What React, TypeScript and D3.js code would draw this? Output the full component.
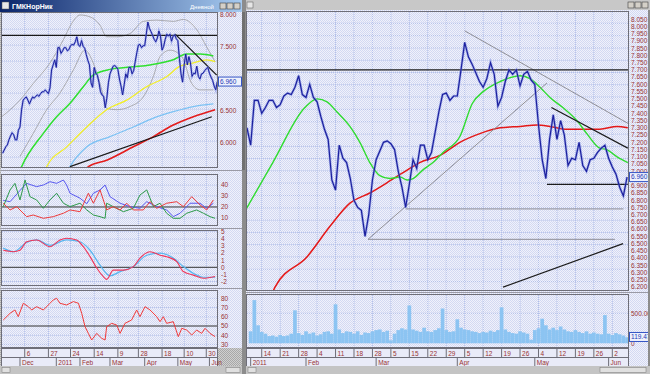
import React from "react";
import * as d3 from "d3";

type P = [number, number];

// ---------------- DATA (day index: 0 = 11 Jan 2011) ----------------
const FIRST_DAY = -34;
const closePrices = [
  5.84, 5.89, 5.94, 5.97, 6.05, 6.11, 6.16, 6.13, 6.05, 6.05, 6.2, 6.25, 6.52, 6.67, 6.7, 6.72, 6.67,
  6.61, 6.67, 6.72, 6.7, 6.73, 6.75, 6.73, 6.77, 6.8, 6.8, 6.83, 6.8, 6.77, 6.86, 7.14, 7.22, 7.3,
  7.18, 7.49, 7.49, 7.4, 7.44, 7.49, 7.49, 7.44, 7.46, 7.52,
  7.54, 7.53, 7.58, 7.66, 7.53, 7.51, 7.6, 7.51, 7.48, 7.38,
  7.29, 7.22, 6.94, 6.87, 7.18, 7.09, 7.06, 6.95, 6.8, 6.75,
  6.73, 6.55, 6.7, 6.94, 7.08, 7.14, 7.2, 7.21, 7.19, 7.15,
  7.0, 6.89, 6.75, 6.91, 7.08, 7.02, 7.18, 7.18, 7.08, 7.13,
  7.27, 7.41, 7.53, 7.54, 7.49, 7.52, 7.52, 7.7, 7.89, 7.79,
  7.74, 7.68, 7.62, 7.58, 7.64, 7.75, 7.67, 7.45, 7.51, 7.62,
  7.7, 7.67, 7.7, 7.59, 7.67, 7.69, 7.63, 7.6, 7.32, 7.08,
  6.95, 7.22, 7.39, 7.22, 7.35, 7.25, 7.04, 7.09, 7.08, 7.2,
  7.04, 7.0, 7.08, 7.09, 7.13, 7.16, 7.18, 7.09, 7.03, 6.98,
  6.89, 6.83, 6.96,
];
const currentPrice = 6.96;

const volumeValues = [
  200, 720, 300, 190, 160, 120, 130, 110, 140, 120, 130, 160, 550,
  170, 140, 200, 160, 180, 130, 150, 190, 200, 160, 650,
  230, 170, 200, 190, 160, 200, 140, 180, 170,
  200, 220, 230, 190, 210, 50, 160, 220, 250, 230, 630,
  230, 210, 190, 260, 200, 190, 220, 250, 580, 220, 190, 200, 400,
  260, 230, 220, 200, 190, 170, 190, 180, 210, 190, 220, 600,
  230, 190, 170, 160, 200, 180, 160, 60, 220, 250, 410,
  300, 230, 260, 220, 280, 230, 200, 190, 220, 190, 170, 200, 160, 180, 160, 150, 470,
  160, 140, 170, 150, 130, 100,
];
const currentVolumeLabel = "119.47";

const rightGreenMA: P[] = [
  [-1.2, 6.74], [6, 7.06], [14.7, 7.44], [18, 7.5], [20.7, 7.48], [23.4, 7.41], [26.9, 7.31],
  [29.6, 7.2], [32.3, 7.06], [35, 6.97], [37.7, 6.95], [40.5, 6.96], [42.4, 6.94], [44, 6.95],
  [46.7, 7.01], [49.4, 7.06], [52.1, 7.13], [56.7, 7.24], [60.1, 7.47], [63, 7.55], [67.6, 7.62],
  [73, 7.66], [75.7, 7.64], [78.4, 7.58], [81.1, 7.51], [84.6, 7.44], [88.4, 7.35], [91.1, 7.26],
  [94.6, 7.16], [96.5, 7.15], [99.3, 7.1], [102.2, 7.06],
];
const rightRedMA: P[] = [
  [5, 6.1], [6.6, 6.2], [15.3, 6.41], [21.5, 6.62], [26.9, 6.78], [32.3, 6.85], [36.9, 6.92],
  [41.3, 6.99], [45.8, 7.06], [51.3, 7.11], [56.7, 7.2], [62.1, 7.26], [67.6, 7.3], [73, 7.31],
  [77.6, 7.32], [81.1, 7.31], [85.7, 7.29], [90.1, 7.29], [94.6, 7.29], [99.3, 7.31], [102.2, 7.3],
];

// trend lines: [day1, value1, day2, value2]
const rightBlackLines = [
  [-1.2, 7.7, 102.3, 7.7],
  [81.5, 7.44, 102.2, 7.16],
  [80.3, 6.91, 102.2, 6.91],
  [68.4, 6.2, 100.9, 6.5],
];
const rightGrayLines = [
  [58, 7.97, 102.3, 7.33],
  [31.8, 6.53, 80.3, 7.61],
  [31.8, 6.53, 98.7, 6.53],
  [42, 6.74, 101, 6.74],
];
const leftBlackLines = [
  [-34.4, 7.68, 101.8, 7.68],
  [75.3, 7.7, 101.6, 7.06],
  [8.7, 5.63, 98.5, 6.41],
];

const leftGreenMA: P[] = [
  [-25, 5.45], [-22, 5.63], [-8.2, 6.15], [0.2, 6.41], [8.7, 6.62], [17.1, 6.88], [23.4, 7.06],
  [34, 7.15], [48.8, 7.19], [59.4, 7.22], [74.1, 7.3], [82.6, 7.39], [91.1, 7.39], [99.5, 7.36],
];
const leftYellowMA: P[] = [
  [-9, 5.45], [-6.1, 5.63], [6.6, 5.94], [19.3, 6.25], [31.9, 6.52], [44.6, 6.67], [57.3, 6.88],
  [70, 7.04], [78.4, 7.2], [86.8, 7.25], [95.3, 7.3], [100.6, 7.27],
];
const leftBlueMA: P[] = [
  [6, 5.5], [8.7, 5.63], [19.3, 5.94], [34, 6.1], [48.8, 6.25], [61.5, 6.39], [74.1, 6.49],
  [86.8, 6.57], [99.5, 6.61],
];
const leftRedMA: P[] = [
  [18, 5.55], [20.3, 5.63], [31.9, 5.73], [48.8, 5.94], [61.5, 6.1], [74.1, 6.28], [86.8, 6.41],
  [100.6, 6.52],
];
const bollUpper: P[] = [
  [-34.6, 6.41], [-23, 6.67], [-14.6, 6.93], [-4, 7.25], [4.4, 7.61], [9.8, 7.87], [15, 8.0],
  [21.4, 7.97], [27.7, 7.84], [31.9, 7.66], [38.3, 7.66], [46.7, 7.71], [55.1, 7.9], [63.6, 7.92],
  [74.1, 7.9], [80.5, 7.93], [89, 7.77], [95.3, 7.5], [100.6, 7.27],
];
const bollLower: P[] = [
  [-23, 5.79], [-14.6, 6.15], [-6.1, 6.52], [2.3, 6.78], [10.8, 7.14], [18.2, 7.45], [23.4, 7.25],
  [28.8, 6.83], [31.9, 6.54], [38.3, 6.52], [46.7, 6.57], [55.1, 6.72], [61.5, 7.04], [65.7, 7.35],
  [72.1, 7.45], [79.5, 7.35], [85.8, 6.93], [91.1, 6.83], [99.5, 6.83],
];

const adxBlue: P[] = [
  [-33.6, 26], [-29.3, 24.8], [-23, 35], [-18.8, 41.5], [-12.5, 38.5], [-8.2, 40], [-4, 43],
  [0.2, 41.5], [4.5, 44.5], [6.5, 40], [8.7, 32.5], [15, 28], [19.3, 23], [23.5, 32.5],
  [27.7, 35.5], [30.9, 40], [34, 29.4], [40.4, 23.4], [46.7, 20.3], [53, 18.8], [57.3, 24.8],
  [63.6, 20.3], [69.9, 17.3], [74.1, 11.2], [78.4, 14.3], [84.7, 23.4], [91.1, 23.4], [95.3, 18.8],
  [99.5, 23.4],
];
const adxGreen: P[] = [
  [-33.6, 20.3], [-29.3, 35.5], [-26.2, 41.5], [-23, 26.4], [-19.8, 44.5], [-16.7, 29.4],
  [-12.5, 26.4], [-8.2, 18.8], [-4, 26.4], [0.2, 32.5], [4.5, 23.4], [8.7, 20.3], [15, 23.4],
  [19.3, 17.3], [23.5, 12.7], [27.7, 11.2], [30.9, 9.7], [31.9, 23.4], [36.1, 20.3], [42.5, 15.7],
  [48.8, 18.8], [53, 30.9], [57.3, 35.5], [61.5, 20.3], [65.7, 23.4], [69.9, 14.3], [74.1, 9.7],
  [78.4, 9.7], [82.6, 14.3], [88.9, 17.3], [93.2, 14.3], [97.4, 11.2], [100.6, 9.7],
];
const adxRed: P[] = [
  [-33.6, 23.4], [-29.3, 17.3], [-25.1, 20.3], [-18.8, 11.2], [-14.6, 12.7], [-8.2, 9.7],
  [-1.9, 11.2], [4.5, 14.3], [8.7, 17.3], [15, 15.7], [20.3, 32.5], [23.5, 23.4], [27.7, 35.5],
  [31.9, 17.3], [36.1, 20.3], [40.4, 17.3], [44.6, 23.4], [48.8, 17.3], [55.1, 17.3], [59.4, 24.8],
  [63.6, 18.8], [69.9, 23.4], [76.3, 24.8], [80.5, 20.3], [85.8, 29.4], [91.1, 21.8], [95.3, 17.3],
  [99.5, 26.4],
];
const macdRed: P[] = [
  [-33.6, 2.4], [-27.2, 2.2], [-23, 2.4], [-18.8, 3.6], [-12.5, 3.85], [-4, 2.9], [2.3, 3.85],
  [6.5, 4.1], [12.9, 3.85], [17.1, 2.9], [21.4, 1.5], [25.6, -0.1], [29.8, -1.3], [31.9, -1.7],
  [36.1, -0.4], [42.5, -0.4], [48.8, 0.1], [53, 1.3], [59.4, 2.2], [65.7, 1.7], [69.9, 1.5],
  [76.3, 0.8], [80.5, -0.6], [86.8, -1.1], [93.2, -1.55], [100.6, -1.3],
];
const macdBlue: P[] = [
  [-33.6, 2.7], [-27.2, 2.2], [-18.8, 3.5], [-12.5, 3.85], [-4, 3.1], [6.5, 3.85], [15, 3.6],
  [21.4, 2.4], [27.7, 0.3], [34, -1.2], [40.4, -0.6], [48.8, 0.1], [57.3, 1.7], [65.7, 2.0],
  [74.1, 1.3], [80.5, 0.1], [86.8, -0.85], [93.2, -1.4], [100.6, -1.4],
];
const rsiValues: P[] = [
  [-33.6, 56.5], [-29.3, 63.8], [-26.2, 67.4], [-24.1, 60.1], [-20.9, 74.7], [-17.7, 71],
  [-15.6, 67.4], [-12.5, 71], [-8.2, 67.4], [-4, 74.7], [-1.9, 78.3], [0.2, 80.1], [2.3, 74.7],
  [6.5, 72.8], [10.8, 76.5], [14, 74.7], [16.1, 63.8], [18.2, 49.3], [20.3, 42], [22.4, 34.8],
  [25.6, 42], [28.8, 36.6], [30.9, 34.8], [31.9, 49.3], [35.1, 52.9], [38.3, 51], [40.4, 42],
  [43.5, 52.9], [47.7, 56.5], [50.9, 67.4], [53, 60.1], [56.2, 71], [59.4, 67.4], [63.6, 60.1],
  [65.7, 54.7], [67.8, 60.1], [69.9, 52.9], [74.1, 54.7], [77.3, 38.4], [79.5, 47.5], [82.6, 45.6],
  [85.8, 40.2], [88.9, 45.6], [92.1, 42], [94.2, 47.5], [97.4, 42], [100.6, 38.4],
];

const leftPriceTicks = [8.0, 7.5, 6.5, 6.0];
const adxTicks = [40, 30, 20, 10];
const macdTicks = [5, 4, 3, 2, 1, 0, -1, -2];
const rsiTicks = [80, 70, 60, 50, 40, 30];
const volumeTicks = [500];

const leftTickDays = [-20, -5, 9, 24, 39, 52, 67, 81, 95];
const leftTickLabels = ["6", "27", "24", "14", "9", "28", "18", "10", "30"];
const leftMonthDays = [-23, 0, 15, 34, 56, 77, 97];
const leftMonthLabels = ["Dec", "2011", "Feb", "Mar", "Apr", "May", "Jun"];

const rightTickDays = [3, 8, 13, 18, 23, 28, 33, 38, 43, 48, 53, 58, 63, 68, 73, 78, 83, 88, 93, 98];
const rightTickLabels = ["14", "21", "28", "4", "11", "18", "28", "5", "15", "22", "29", "5", "12", "19", "26", "4", "12", "19", "26", "2"];
const rightMonthDays = [0, 15, 34, 56, 77, 97];
const rightMonthLabels = ["2011", "Feb", "Mar", "Apr", "May", "Jun"];

const titleLeft = "ГМКНорНик";
const titleLeftRight = "Дневной";

// ---------------- STYLE ----------------
const FONT = "'Liberation Sans', Arial, sans-serif";
const LABEL = "#9a3434";
const GRID = "#b2bfe9";
const BORDER = "#6e6e78";
const PRICE = "#1c209e";
const PRICE_HALO = "#6d7ee0";

function mkLine(xs: any, ys: any, curve: any = d3.curveLinear) {
  return d3.line<P>().x((p) => xs(p[0])).y((p) => ys(p[1])).curve(curve);
}

export default function App() {
  const lx = d3.scaleLinear().domain([-34.4, 101.8]).range([2, 217]);
  const lyMain = d3.scaleLinear().domain([5.625, 8.031]).range([167, 13]);
  const lyAdx = d3.scaleLinear().domain([3.6, 49.1]).range([225, 175]);
  const lyMacd = d3.scaleLinear().domain([-2.49, 5.11]).range([285, 231]);
  const lyRsi = d3.scaleLinear().domain([27.2, 88]).range([347, 291]);
  const rx = d3.scaleLinear().domain([-1.1, 102.2]).range([246.6, 627.8]);
  const ryMain = d3.scaleLinear().domain([6.18, 8.107]).range([290, 11]);
  const ryVol = d3.scaleLinear().domain([-62, 822]).range([347, 294]);

  const series: P[] = closePrices.map((v, i) => [FIRST_DAY + i, v]);
  const rightSeries = series.filter((p) => p[0] >= -1);
  const rightPriceTicks = d3.range(38).map((i) => +(8.05 - i * 0.05).toFixed(2));
  const dayW = rx(1) - rx(0);

  const mono = d3.curveMonotoneX;
  const lMainLine = mkLine(lx, lyMain);
  const lMainMA = mkLine(lx, lyMain, mono);
  const rMainLine = mkLine(rx, ryMain);
  const rMainMA = mkLine(rx, ryMain, mono);

  const gridRows = (top: number, bottom: number, step: number) => d3.range(top + step, bottom - 1, step);

  const box = (x1: number, y1: number, x2: number, y2: number, key: string) => (
    <rect key={key} x={x1 + 0.5} y={y1 + 0.5} width={x2 - x1} height={y2 - y1} fill="none" stroke={BORDER} strokeWidth={1} />
  );

  const hLines = (ys: any, ticks: number[], x1: number, x2: number, key: string, dark?: number) =>
    ticks.map((t, i) => (
      <line key={key + i} x1={x1} x2={x2} y1={ys(t)} y2={ys(t)}
        stroke={t === dark ? "#333" : GRID} strokeWidth={1}
        strokeDasharray={t === dark ? undefined : "1,1"} />
    ));

  const vGrid = (xs: any, days: number[], y1: number, y2: number, key: string) =>
    days.map((d, i) => (
      <line key={key + i} x1={xs(d)} x2={xs(d)} y1={y1} y2={y2} stroke={GRID} strokeDasharray="1,1" />
    ));

  const axisLabels = (ys: any, ticks: number[], x: number, fmt: (v: number) => string, key: string, skip?: (v: number) => boolean) =>
    ticks.filter((t) => !(skip && skip(t))).map((t, i) => (
      <text key={key + i} x={x} y={ys(t) + 2.3} fontSize={6.5} fill={LABEL}>{fmt(t)}</text>
    ));

  const dateRows = (xs: any, tickDays: number[], tickLabels: string[], monthDays: number[], monthLabels: string[], x1: number, x2: number, key: string) => (
    <g key={key}>
      <rect x={x1} y={348} width={x2 - x1} height={18} fill="#e9ebf8" />
      {box(x1, 348, x2, 357, key + "b1")}
      {box(x1, 357, x2, 366, key + "b2")}
      {tickDays.map((d, i) => (
        <g key={key + "t" + i}>
          <line x1={xs(d)} x2={xs(d)} y1={348} y2={357} stroke={BORDER} />
          <text x={xs(d) + 2} y={355.5} fontSize={6.5} fill={LABEL}>{tickLabels[i]}</text>
        </g>
      ))}
      {monthDays.map((d, i) => (
        <g key={key + "m" + i}>
          <line x1={xs(d)} x2={xs(d)} y1={357} y2={366} stroke={BORDER} />
          <text x={xs(d) + 2} y={364.5} fontSize={6.5} fill={LABEL}>{monthLabels[i]}</text>
        </g>
      ))}
    </g>
  );

  const valueBox = (x: number, y: number, w: number, label: string, key: string) => (
    <g key={key}>
      <rect x={x + 0.5} y={y - 4.5} width={w} height={9} fill="#eef1fc" stroke="#3556c6" />
      <text x={x + 2} y={y + 2.4} fontSize={6.5} fill="#2238b6">{label}</text>
    </g>
  );

  const seg = (xs: any, ys: any, l: number[], color: string, width: number, key: string) => (
    <line key={key} x1={xs(l[0])} y1={ys(l[1])} x2={xs(l[2])} y2={ys(l[3])} stroke={color} strokeWidth={width} />
  );

  const winButtons = (x: number, y: number, key: string) =>
    [0, 1, 2].map((i) => (
      <rect key={key + i} x={x + i * 7} y={y} width={6} height={6} fill="#d4d0c8" stroke="#404040" strokeWidth={0.6} />
    ));

  return (
    <svg width={650} height={374} style={{ position: "absolute", left: 0, top: 0, display: "block" }} fontFamily={FONT}>
      <defs>
        <pattern id="dither" width={2} height={2} patternUnits="userSpaceOnUse">
          <rect width={2} height={2} fill="#f0f1fb" />
          <rect width={1} height={1} fill="#d3d9f2" />
          <rect x={1} y={1} width={1} height={1} fill="#d3d9f2" />
        </pattern>
        <pattern id="grayDither" width={2} height={2} patternUnits="userSpaceOnUse">
          <rect width={2} height={2} fill="#d0d0d0" />
          <rect width={1} height={1} fill="#a8a8a8" />
          <rect x={1} y={1} width={1} height={1} fill="#a8a8a8" />
        </pattern>
        <linearGradient id="titleGrad" x1="0" x2="1" y1="0" y2="0">
          <stop offset="0" stopColor="#0a246a" />
          <stop offset="1" stopColor="#a6caf0" />
        </linearGradient>
        <clipPath id="cLMain"><rect x={2} y={13} width={215} height={154} /></clipPath>
        <clipPath id="cLAdx"><rect x={2} y={175} width={215} height={50} /></clipPath>
        <clipPath id="cLMacd"><rect x={2} y={231} width={215} height={54} /></clipPath>
        <clipPath id="cLRsi"><rect x={2} y={291} width={215} height={56} /></clipPath>
        <clipPath id="cRMain"><rect x={247} y={12} width={381} height={278} /></clipPath>
        <clipPath id="cRVol"><rect x={247} y={295} width={381} height={52} /></clipPath>
      </defs>

      <rect width={650} height={374} fill="url(#grayDither)" />

      {/* ============ LEFT WINDOW ============ */}
      <rect x={0} y={0} width={242} height={12} fill="url(#titleGrad)" />
      <rect x={2} y={2} width={7} height={7} fill="#e8e8e8" stroke="#555" strokeWidth={0.5} />
      <text x={12} y={9} fontSize={7} fontWeight="bold" fill="#ffffff">{titleLeft}</text>
      <text x={190} y={8.8} fontSize={6} fill="#ffffff">{titleLeftRight}</text>
      {winButtons(220, 3, "lb")}
      <rect x={1} y={12} width={241} height={336} fill="url(#dither)" />

      {vGrid(lx, leftTickDays, 13, 167, "lmg")}
      {gridRows(13, 167, 16).map((y, i) => (
        <line key={"lmh" + i} x1={2} x2={217} y1={y} y2={y} stroke={GRID} strokeDasharray="1,1" />
      ))}
      <g clipPath="url(#cLMain)" fill="none">
        <path d={lMainMA(bollUpper) || ""} stroke="#a4a4a8" strokeWidth={0.9} />
        <path d={lMainMA(bollLower) || ""} stroke="#a4a4a8" strokeWidth={0.9} />
        <path d={lMainMA(leftBlueMA) || ""} stroke="#7cc2f4" strokeWidth={1.3} />
        <path d={lMainMA(leftYellowMA) || ""} stroke="#f2ee2a" strokeWidth={1.3} />
        <path d={lMainMA(leftRedMA) || ""} stroke="#e41c1c" strokeWidth={1.6} />
        <path d={lMainMA(leftGreenMA) || ""} stroke="#2fe02f" strokeWidth={1.5} />
        {leftBlackLines.map((l, i) => seg(lx, lyMain, l, "#1a1a1a", 1.2, "lbl" + i))}
        <path d={lMainLine(series) || ""} stroke={PRICE_HALO} strokeWidth={2.2} opacity={0.55} />
        <path d={lMainLine(series) || ""} stroke={PRICE} strokeWidth={1} />
      </g>
      {box(1, 12, 217, 167, "lmb")}
      {axisLabels(lyMain, leftPriceTicks, 220, (v) => v.toFixed(3), "lml")}
      {valueBox(218, lyMain(currentPrice), 23, currentPrice.toFixed(3), "lvb")}
      <line x1={1} x2={242} y1={170.5} y2={170.5} stroke="#9a9aa6" />

      {vGrid(lx, leftTickDays, 175, 225, "lag")}
      {hLines(lyAdx, adxTicks, 2, 217, "lah", 20)}
      <g clipPath="url(#cLAdx)" fill="none" strokeWidth={1}>
        <path d={mkLine(lx, lyAdx)(adxBlue) || ""} stroke="#5a5af0" />
        <path d={mkLine(lx, lyAdx)(adxGreen) || ""} stroke="#2e9a4a" />
        <path d={mkLine(lx, lyAdx)(adxRed) || ""} stroke="#ee3b3b" />
      </g>
      {box(1, 174, 217, 225, "lab")}
      {axisLabels(lyAdx, adxTicks, 221, (v) => String(v), "lal")}
      <line x1={1} x2={242} y1={228.5} y2={228.5} stroke="#9a9aa6" />

      {vGrid(lx, leftTickDays, 231, 285, "lcg")}
      {hLines(lyMacd, macdTicks, 2, 217, "lch", 0)}
      <g clipPath="url(#cLMacd)" fill="none">
        <path d={mkLine(lx, lyMacd, mono)(macdBlue) || ""} stroke="#58b6f0" strokeWidth={1.2} />
        <path d={mkLine(lx, lyMacd, mono)(macdRed) || ""} stroke="#f0365a" strokeWidth={1.1} />
      </g>
      {box(1, 230, 217, 285, "lcb")}
      {axisLabels(lyMacd, macdTicks, 221, (v) => String(v), "lcl")}
      <line x1={1} x2={242} y1={288.5} y2={288.5} stroke="#9a9aa6" />

      {vGrid(lx, leftTickDays, 291, 347, "lrg")}
      {hLines(lyRsi, rsiTicks, 2, 217, "lrh", 50)}
      <g clipPath="url(#cLRsi)" fill="none">
        <path d={mkLine(lx, lyRsi)(rsiValues) || ""} stroke="#f03a3a" strokeWidth={1} />
      </g>
      {box(1, 290, 217, 347, "lrb")}
      {axisLabels(lyRsi, rsiTicks, 221, (v) => String(v), "lrl")}

      {dateRows(lx, leftTickDays, leftTickLabels, leftMonthDays, leftMonthLabels, 1, 217, "ld")}
      <rect x={0} y={366} width={242} height={8} fill="#c4c4c4" />
      <rect x={2} y={367.5} width={8} height={5} fill="#e0e0e0" stroke="#777" strokeWidth={0.5} />
      <rect x={226} y={367.5} width={14} height={5} fill="#e0e0e0" stroke="#777" strokeWidth={0.5} />

      <rect x={242} y={0} width={4} height={374} fill="#8c8c8c" />
      <rect x={242} y={12} width={3} height={158} fill="#707070" />

      {/* ============ RIGHT WINDOW ============ */}
      <rect x={246} y={0} width={404} height={10} fill="#c8c8c8" />
      <rect x={247} y={2} width={6} height={6} fill="#e6e6e6" stroke="#555" strokeWidth={0.5} />
      {winButtons(628, 2, "rb")}
      <rect x={246} y={10} width={403} height={356} fill="url(#dither)" />

      {vGrid(rx, rightTickDays, 12, 290, "rmg")}
      {gridRows(11, 290, 12.3).map((y, i) => (
        <line key={"rmh" + i} x1={247} x2={628} y1={y} y2={y} stroke={GRID} strokeDasharray="1,1" />
      ))}
      <g clipPath="url(#cRMain)" fill="none">
        <path d={rMainMA(rightRedMA) || ""} stroke="#e41818" strokeWidth={1.5} />
        <path d={rMainMA(rightGreenMA) || ""} stroke="#2fdc2f" strokeWidth={1.4} />
        {rightGrayLines.map((l, i) => seg(rx, ryMain, l, "#8e8e96", 1, "rgl" + i))}
        {rightBlackLines.map((l, i) => seg(rx, ryMain, l, "#1c1c1c", 1.2, "rbl" + i))}
        <path d={rMainLine(rightSeries) || ""} stroke={PRICE_HALO} strokeWidth={2.6} opacity={0.5} />
        <path d={rMainLine(rightSeries) || ""} stroke={PRICE} strokeWidth={1.2} />
      </g>
      {box(246, 11, 628, 290, "rmb")}
      {axisLabels(ryMain, rightPriceTicks, 631, (v) => v.toFixed(3), "rml",
        (v) => Math.abs(ryMain(v) - ryMain(currentPrice)) < 5)}
      {valueBox(629, ryMain(currentPrice), 19, currentPrice.toFixed(3), "rvb")}
      <line x1={246} x2={649} y1={292.5} y2={292.5} stroke="#9a9aa6" />

      {vGrid(rx, rightTickDays, 295, 347, "rvg")}
      {hLines(ryVol, volumeTicks, 247, 628, "rvh")}
      <g clipPath="url(#cRVol)">
        {volumeValues.map((v, i) => (
          <rect key={"vb" + i} x={rx(i) - dayW / 2} y={ryVol(v)} width={dayW} height={ryVol(0) - ryVol(v)} fill="#8cc4f2" />
        ))}
      </g>
      {box(246, 294, 628, 347, "rvbx")}
      <text x={631} y={ryVol(500) + 2.3} fontSize={6.5} fill={LABEL}>500.00</text>
      <text x={631} y={ryVol(0) + 2.3} fontSize={6.5} fill={LABEL}>0</text>
      {valueBox(629, ryVol(105), 19, currentVolumeLabel, "rvv")}

      {dateRows(rx, rightTickDays, rightTickLabels, rightMonthDays, rightMonthLabels, 246, 628, "rd")}
      <rect x={246} y={366} width={404} height={8} fill="#c4c4c4" />
      <rect x={248} y={367.5} width={8} height={5} fill="#e0e0e0" stroke="#777" strokeWidth={0.5} />
      <rect x={600} y={367.5} width={46} height={5} fill="#e0e0e0" stroke="#777" strokeWidth={0.5} />
      <rect x={648} y={10} width={2} height={356} fill="#8c8c8c" />
    </svg>
  );
}
